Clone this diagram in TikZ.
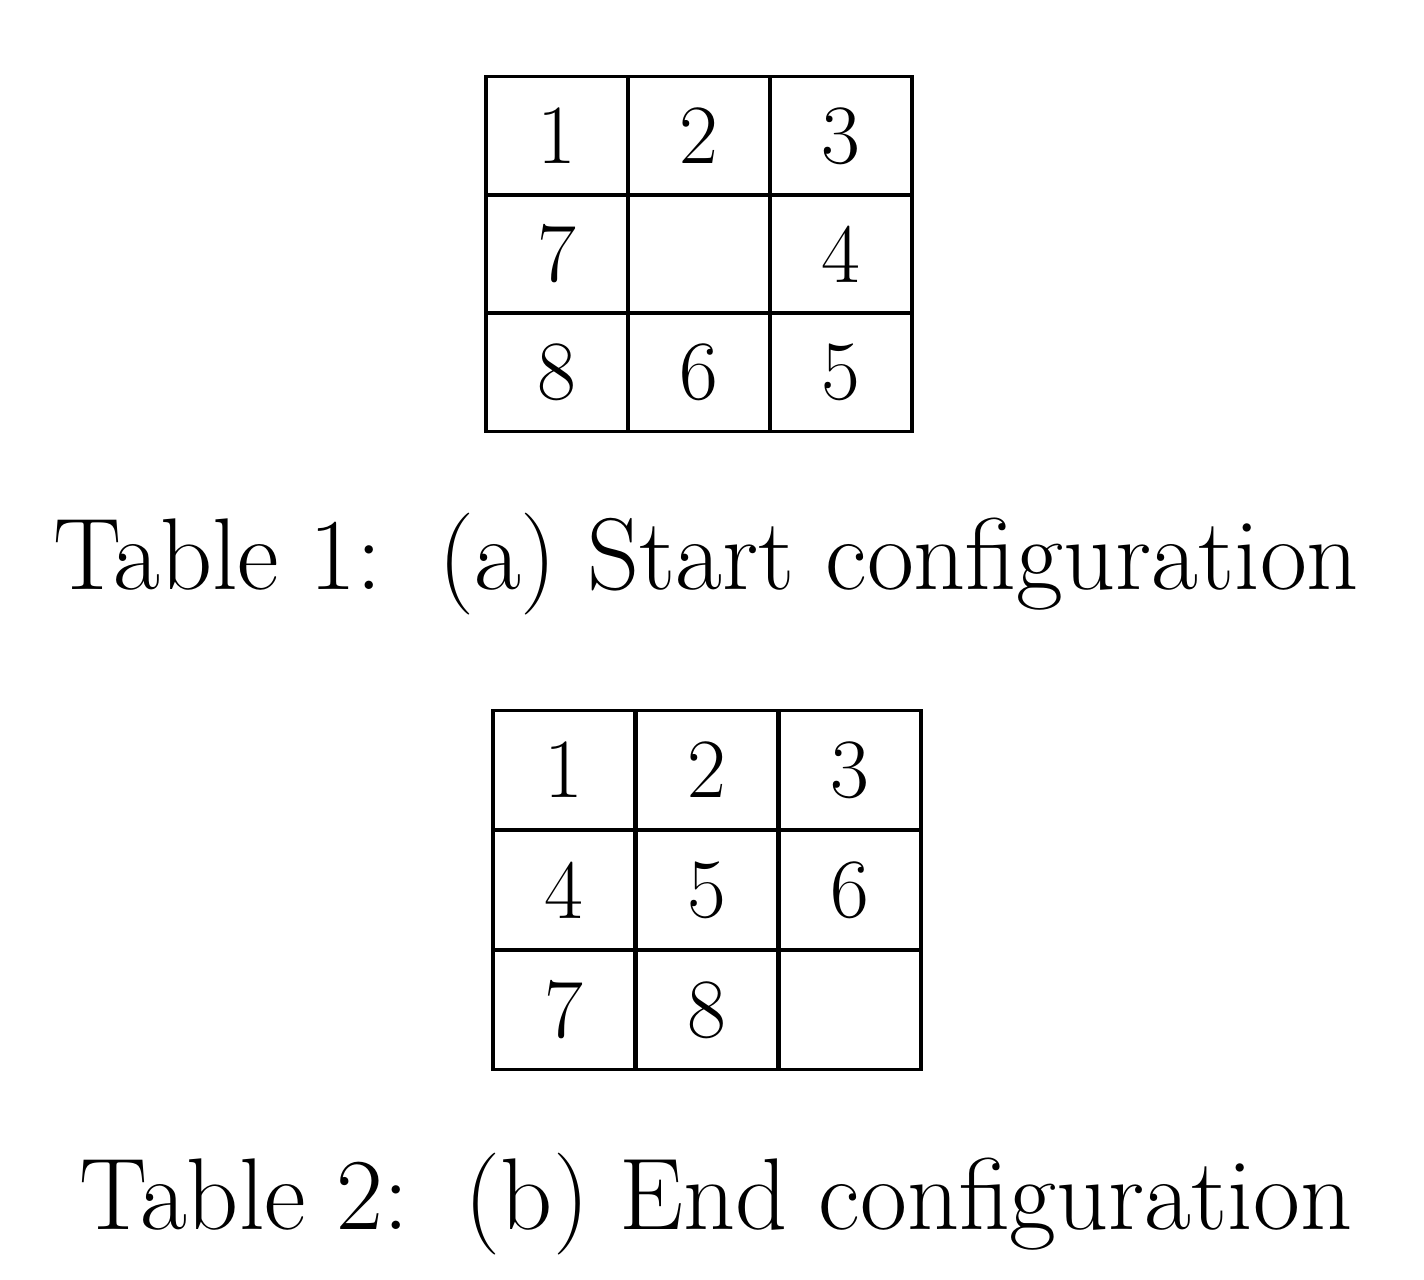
\documentclass[tikz,border=0pt]{standalone}
\usepackage{fontspec}
\tikzset{
  cell/.style={draw, line width=1pt, minimum width=1.42cm, minimum height=1.19cm,
    inner sep=0pt, font=\fontsize{24}{28}\selectfont},
  caption/.style={anchor=base, inner sep=0pt, font=\fontsize{29}{33}\selectfont}
}
\begin{document}
\begin{tikzpicture}[x=1cm,y=1cm]
        \useasboundingbox (0,0) rectangle (14.24,12.80);
        % Tableau 1 : configuration de depart
        \foreach \r/\c/\v in {0/0/1,0/1/2,0/2/3,1/0/7,1/1/{},1/2/4,2/0/8,2/1/6,2/2/5} {
            \node[cell] (s-\r-\c) at (5.57+1.42*\c, 11.44-1.18*\r) {\v};
        }
        \node[caption] (capa) at (7.06,6.90) {Table 1:\hspace{0.55em}(a) Start configuration};

        % Tableau 2 : configuration finale
        \foreach \r/\c/\v in {0/0/1,0/1/2,0/2/3,1/0/4,1/1/5,1/2/6,2/0/7,2/1/8,2/2/{}} {
            \node[cell] (e-\r-\c) at (5.64+1.43*\c, 5.10-1.20*\r) {\v};
        }
        \node[caption] (capb) at (7.16,0.50) {Table 2:\hspace{0.55em}(b) End configuration};
\end{tikzpicture}
\end{document}
